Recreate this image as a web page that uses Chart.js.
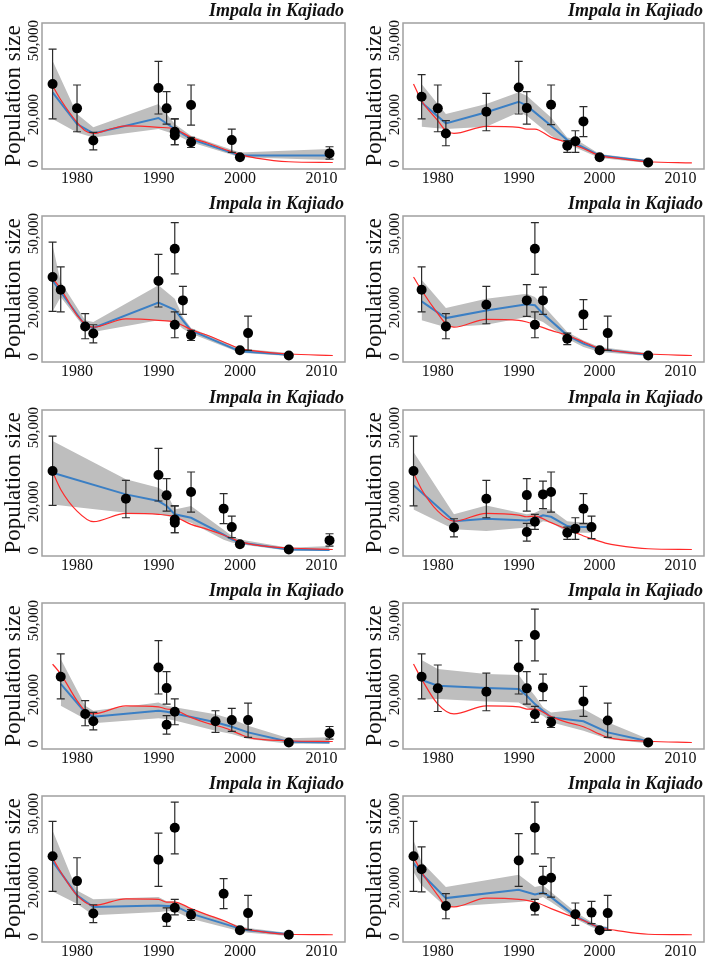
<!DOCTYPE html>
<html>
<head>
<meta charset="utf-8">
<script src="https://cdn.jsdelivr.net/npm/chart.js@4.4.0/dist/chart.umd.min.js"></script>
<style>
  html, body { margin: 0; padding: 0; background: #fff; overflow: hidden; }
  #wrap { position: relative; width: 709px; height: 957px; }
  #wrap canvas { position: absolute; }
</style>
</head>
<body>
<div id="wrap"></div>
<script>
// ---- data: one inner list per panel (row by row, left then right) ----
const panelTitle = 'Impala in Kajiado';
const yLabel = 'Population size';
const xTicks = [1980, 1990, 2000, 2010];
const yTicks = [0, 20000, 50000];

const obsYear = [
  [1977, 1980, 1982, 1990, 1991, 1992, 1992, 1994, 1994, 1999, 2000, 2011],
  [1978, 1980, 1981, 1986, 1990, 1991, 1994, 1996, 1997, 1998, 2000, 2006],
  [1977, 1978, 1981, 1982, 1990, 1992, 1992, 1993, 1994, 2000, 2001, 2006],
  [1978, 1981, 1986, 1991, 1992, 1992, 1993, 1996, 1998, 2000, 2001, 2006],
  [1977, 1986, 1990, 1991, 1992, 1992, 1994, 1998, 1999, 2000, 2006, 2011],
  [1977, 1982, 1986, 1991, 1991, 1992, 1993, 1994, 1996, 1997, 1998, 1999],
  [1978, 1981, 1982, 1990, 1991, 1991, 1992, 1997, 1999, 2001, 2006, 2011],
  [1978, 1980, 1986, 1990, 1991, 1992, 1992, 1993, 1994, 1998, 2001, 2006],
  [1977, 1980, 1982, 1990, 1991, 1992, 1992, 1994, 1998, 2000, 2001, 2006],
  [1977, 1978, 1981, 1990, 1992, 1992, 1993, 1994, 1997, 1999, 2000, 2001]
];
const obsVal = [
  [32400, 22500, 9400, 30800, 22500, 13000, 11500, 23900, 8700, 9600, 2600, 4200],
  [27200, 22500, 12300, 21100, 31000, 22600, 24000, 7300, 9100, 17200, 2600, 500],
  [32400, 27200, 12300, 9400, 30800, 43900, 13000, 22900, 8700, 2600, 9600, 500],
  [27200, 12300, 21100, 22900, 43900, 13000, 22900, 7300, 17200, 2600, 9600, 500],
  [32400, 21100, 30800, 22500, 12700, 11400, 23900, 17100, 9600, 2600, 500, 4200],
  [32400, 9400, 21100, 22600, 7600, 11800, 22900, 23900, 7300, 8900, 17100, 9600],
  [27200, 12100, 9100, 31000, 22600, 7700, 13000, 9100, 9600, 9600, 500, 4300],
  [27200, 22500, 21100, 31000, 22500, 44200, 12000, 22900, 8700, 17200, 9400, 500],
  [32700, 22600, 9400, 31300, 7700, 44300, 11800, 8900, 17500, 2600, 9600, 800],
  [32700, 27400, 12500, 31000, 44300, 12100, 22900, 24000, 9100, 9800, 2600, 9600]
];
const obsLo = [
  [18200, 13000, 5600, 20200, 16100, 7700, 7700, 15700, 6600, 4600, 2600, 1900],
  [18200, 13000, 7300, 13400, 20200, 16100, 15900, 4600, 4600, 11000, 2600, 500],
  [18400, 18200, 7300, 5600, 20200, 33700, 7700, 17200, 6600, 2600, 2600, 500],
  [18200, 7300, 13400, 16400, 33500, 7700, 17200, 4900, 11100, 2600, 2600, 500],
  [18400, 13400, 20200, 16100, 7300, 7300, 15700, 11000, 5300, 2600, 500, 1900],
  [18200, 5600, 13400, 16100, 3900, 8700, 17100, 15700, 4600, 4600, 11000, 4900],
  [18200, 7300, 5600, 20200, 16100, 3900, 7700, 4600, 5000, 2600, 500, 1900],
  [18200, 13100, 13400, 20200, 16100, 33700, 8700, 17500, 6600, 11100, 2600, 500],
  [18400, 13100, 5700, 20500, 4200, 33700, 8900, 6600, 11400, 2600, 2900, 800],
  [18400, 18200, 7300, 20500, 33700, 8900, 17500, 16100, 4600, 5300, 2600, 2600]
];
const obsHi = [
  [46600, 32000, 12700, 41600, 29300, 18200, 18200, 32000, 10700, 14100, 2600, 6900],
  [36200, 32000, 17500, 28600, 41600, 29300, 32000, 9400, 13400, 23200, 2600, 500],
  [46600, 36500, 17500, 13000, 41600, 54500, 18200, 28600, 10700, 2600, 16500, 500],
  [36500, 17500, 28600, 29300, 54500, 18200, 28300, 9600, 23200, 2600, 16500, 500],
  [46600, 28600, 41600, 29300, 18200, 18200, 32000, 23200, 14100, 2600, 500, 6900],
  [46600, 13000, 28600, 29300, 11100, 14800, 28300, 32000, 9600, 13400, 23200, 14100],
  [36500, 17500, 12700, 41900, 29300, 11400, 18200, 13400, 14400, 16500, 500, 7000],
  [36500, 32000, 28700, 41900, 29300, 54700, 15200, 28300, 10700, 23300, 16500, 500],
  [46900, 32100, 13000, 42100, 11700, 54700, 15200, 11000, 23600, 2600, 16800, 800],
  [46900, 36500, 17500, 41900, 54700, 15200, 28600, 32100, 13700, 14400, 2600, 16800]
];

const fitYear = [
  [1977, 1980, 1982, 1990, 1992, 1994, 2000, 2011],
  [1978, 1981, 1986, 1990, 1991, 1994, 1996, 1997, 2000, 2006],
  [1977, 1978, 1981, 1982, 1990, 1992, 1993, 1994, 2000, 2006],
  [1978, 1981, 1986, 1991, 1992, 1993, 1996, 1998, 2000, 2006],
  [1977, 1986, 1990, 1991, 1992, 1994, 1998, 1999, 2000, 2006, 2011],
  [1977, 1982, 1986, 1991, 1992, 1993, 1994, 1996, 1997, 1998, 1999],
  [1978, 1981, 1982, 1990, 1991, 1992, 1997, 1999, 2001, 2006, 2011],
  [1978, 1980, 1986, 1990, 1991, 1992, 1993, 1994, 1998, 2001, 2006],
  [1977, 1980, 1982, 1990, 1991, 1992, 1994, 2000, 2001, 2006],
  [1977, 1978, 1981, 1990, 1992, 1993, 1994, 1997, 1999, 2000, 2001]
];
const fitVal = [
  [29000, 16100, 12300, 18600, 14100, 10000, 3300, 3300],
  [24900, 16400, 20900, 25200, 23600, 15400, 9600, 8300, 3300, 1000],
  [31000, 26300, 12700, 11700, 22000, 19100, 14800, 10700, 2200, 800],
  [22500, 15700, 18800, 21300, 20900, 17500, 8700, 5300, 3000, 800],
  [31700, 22900, 20200, 18200, 14800, 13400, 6500, 4600, 3300, 500, 300],
  [26600, 12000, 13000, 12300, 13000, 14400, 13800, 10000, 9600, 9600, 9600],
  [24300, 12700, 11000, 13400, 13000, 12300, 8700, 6900, 4600, 800, 500],
  [25900, 23600, 22600, 22200, 19500, 16100, 13400, 10700, 9100, 4600, 1000],
  [30600, 16800, 12100, 12700, 12500, 12500, 9400, 3300, 2600, 1000],
  [29900, 25600, 15700, 19100, 17200, 17900, 16100, 8400, 5000, 3700, 3300]
];
const fitLo = [
  [18200, 12700, 10700, 14100, 12000, 8700, 2600, 1500],
  [15000, 14100, 15000, 20900, 19500, 11400, 7700, 6600, 2300, 300],
  [18400, 24300, 11400, 10000, 14800, 14100, 11400, 9400, 1600, 300],
  [14800, 12000, 13000, 16100, 15400, 14100, 7300, 3900, 1900, 300],
  [18800, 15400, 14800, 14100, 13400, 11400, 4500, 3300, 2600, 0, 0],
  [16800, 8700, 8000, 9400, 10000, 12000, 11400, 7600, 7300, 7300, 7300],
  [15400, 10000, 8300, 10300, 10000, 9400, 5300, 3900, 1900, 0, 0],
  [18000, 18200, 17200, 16800, 14800, 12700, 11400, 8700, 5300, 1900, 100],
  [18400, 13400, 8700, 10000, 10300, 10300, 7300, 2200, 1600, 300],
  [26300, 20900, 12100, 14100, 14800, 16100, 14100, 7300, 3900, 2600, 2600]
];
const fitHi = [
  [41900, 20200, 14800, 24300, 16100, 11400, 4600, 6000],
  [32400, 20200, 24300, 29000, 27600, 18800, 10700, 10000, 3900, 1500],
  [45300, 30400, 14800, 14100, 29000, 23600, 16100, 11700, 3300, 1500],
  [31300, 19800, 23600, 25600, 24300, 20900, 10000, 6600, 3900, 1500],
  [44600, 29000, 25600, 23600, 16800, 18200, 8500, 6000, 4600, 1200, 1900],
  [40100, 14800, 18400, 14800, 15400, 17100, 16800, 12000, 11700, 11700, 11400],
  [34400, 15400, 13400, 16800, 15400, 14800, 12000, 10000, 7300, 2200, 2600],
  [34000, 30400, 28300, 27900, 23600, 19500, 14800, 12700, 14100, 8700, 1900],
  [43200, 18800, 15200, 16100, 14400, 14400, 11400, 4300, 3500, 1500],
  [39200, 30400, 20200, 25200, 20200, 20900, 18200, 10000, 6000, 4600, 3900]
];

const redYear = [
  [1977, 1978, 1980, 1981, 1982, 1984, 1986, 1990, 1992, 1994, 1996, 1998, 2000, 2002, 2006, 2011.4],
  [1977, 1978, 1980, 1981, 1982, 1986, 1990, 1991, 1992, 1994, 1996, 1998, 2000, 2002, 2006, 2011.4],
  [1977, 1978, 1980, 1981, 1982, 1986, 1990, 1992, 1993, 1994, 1996, 1998, 2000, 2002, 2006, 2011.4],
  [1977, 1978, 1980, 1981, 1982, 1986, 1990, 1991, 1992, 1994, 1996, 1998, 2000, 2002, 2006, 2011.4],
  [1977, 1978, 1980, 1982, 1986, 1990, 1992, 1994, 1996, 1998, 2000, 2002, 2006, 2011.4],
  [1977, 1978, 1980, 1982, 1986, 1990, 1991, 1992, 1994, 1996, 1998, 1999, 2001, 2002, 2006, 2011.4],
  [1977, 1978, 1980, 1981, 1982, 1986, 1990, 1991, 1992, 1994, 1996, 1998, 2000, 2001, 2006, 2011.4],
  [1977, 1978, 1980, 1982, 1986, 1990, 1991, 1992, 1994, 1996, 1998, 2000, 2001, 2006, 2011.4],
  [1977, 1978, 1980, 1982, 1986, 1990, 1991, 1992, 1994, 1996, 1998, 2000, 2001, 2006, 2011.4],
  [1977, 1978, 1980, 1981, 1982, 1986, 1990, 1992, 1994, 1996, 1998, 2000, 2002, 2006, 2011.4]
];
const redVal = [
  [31700, 26000, 16800, 13400, 12300, 14000, 15400, 14800, 14100, 10700, 8400, 6000, 3700, 2300, 800, 500],
  [32400, 25600, 17500, 13400, 12300, 15200, 14800, 14100, 14100, 10700, 8700, 6200, 3300, 2300, 800, 300],
  [32000, 27600, 16800, 13400, 12000, 15400, 14800, 14100, 12700, 11000, 8700, 6000, 3300, 2300, 1100, 500],
  [32400, 27000, 17500, 13400, 12000, 15200, 14800, 14100, 13000, 10700, 8700, 6000, 3300, 2300, 1100, 500],
  [32000, 24900, 16100, 11800, 15200, 14800, 13800, 10700, 8700, 6400, 3700, 2300, 1100, 500],
  [31700, 24900, 16100, 12000, 15200, 14500, 13800, 14100, 11400, 8700, 6000, 4900, 2900, 2300, 800, 500],
  [32400, 28300, 17500, 13400, 12100, 15400, 15000, 14100, 13700, 10700, 8300, 6600, 3900, 2600, 1200, 900],
  [32400, 26300, 16100, 12100, 15400, 15000, 14100, 14100, 11000, 8700, 6900, 3900, 2600, 1000, 500],
  [32000, 26300, 16800, 12700, 15400, 15200, 14100, 14100, 11400, 8900, 6600, 3700, 2900, 1000, 800],
  [32400, 26300, 16800, 12700, 12100, 15700, 15200, 14100, 11400, 8900, 6600, 3700, 2600, 1000, 800]
];

const serif = '"Liberation Serif", "Times New Roman", serif';

const zip = (xs, ys) => xs.map((x, i) => ({ x: x, y: ys[i] }));

const decor = {
  id: 'decor',
  beforeDatasetDraw(chart, args) {
    if (args.index !== 0) return;
    const p = chart.$panel;
    const sx = chart.scales.x, sy = chart.scales.y;
    const ctx = chart.ctx;
    ctx.save();
    ctx.strokeStyle = '#2b2b2b';
    ctx.lineWidth = 1.2;
    obsYear[p].forEach((yr, i) => {
      const lo = obsLo[p][i], hi = obsHi[p][i];
      if (hi - lo < 300) return;
      const x = sx.getPixelForValue(yr);
      const y1 = sy.getPixelForValue(lo), y2 = sy.getPixelForValue(hi);
      ctx.beginPath();
      ctx.moveTo(x, y1); ctx.lineTo(x, y2);
      ctx.moveTo(x - 4, y1); ctx.lineTo(x + 4, y1);
      ctx.moveTo(x - 4, y2); ctx.lineTo(x + 4, y2);
      ctx.stroke();
    });
    ctx.restore();
  },
  afterDraw(chart) {
    const ctx = chart.ctx;
    const a = chart.chartArea;
    const sx = chart.scales.x, sy = chart.scales.y;
    ctx.save();
    ctx.strokeStyle = '#a0a0a0';
    ctx.lineWidth = 1.5;
    ctx.strokeRect(a.left, a.top, a.right - a.left, a.bottom - a.top);

    ctx.fillStyle = '#111';
    ctx.font = 'bold italic 18px ' + serif;
    ctx.textAlign = 'right';
    ctx.textBaseline = 'alphabetic';
    ctx.fillText(panelTitle, a.right - 1, a.top - 7);

    ctx.font = '16px ' + serif;
    ctx.textAlign = 'center';
    ctx.textBaseline = 'middle';
    xTicks.forEach(v => ctx.fillText(String(v), sx.getPixelForValue(v), a.bottom + 10));

    ctx.font = '15px ' + serif;
    yTicks.forEach(v => {
      ctx.save();
      ctx.translate(a.left - 8, sy.getPixelForValue(v));
      ctx.rotate(-Math.PI / 2);
      ctx.fillText(v.toLocaleString('en-US'), 0, 0);
      ctx.restore();
    });

    ctx.font = '23px ' + serif;
    ctx.translate(a.left - 28, (a.top + a.bottom) / 2);
    ctx.rotate(-Math.PI / 2);
    ctx.fillText(yLabel, 0, 0);
    ctx.restore();
  }
};

const wrap = document.getElementById('wrap');

for (let p = 0; p < 10; p++) {
  const row = Math.floor(p / 2), col = p % 2;
  const cv = document.createElement('canvas');
  const w = col === 0 ? 352 : 348;
  cv.width = w; cv.height = 193;
  cv.style.left = (col === 0 ? 0 : 361) + 'px';
  cv.style.top = Math.round(row * 193.25) + 'px';
  wrap.appendChild(cv);

  const chart = new Chart(cv, {
    type: 'line',
    data: {
      datasets: [
        { label: 'obs', data: zip(obsYear[p], obsVal[p]), showLine: false,
          pointRadius: 5, pointBackgroundColor: '#000', pointBorderWidth: 0 },
        { label: 'red', data: zip(redYear[p], redVal[p]), borderColor: '#ff2a2a',
          borderWidth: 1.2, pointRadius: 0, cubicInterpolationMode: 'monotone' },
        { label: 'fit', data: zip(fitYear[p], fitVal[p]), borderColor: '#3b7fc4',
          borderWidth: 2, pointRadius: 0 },
        { label: 'hi', data: zip(fitYear[p], fitHi[p]), borderWidth: 0, borderColor: 'rgba(0,0,0,0)',
          pointRadius: 0, fill: '+1', backgroundColor: '#bebebe' },
        { label: 'lo', data: zip(fitYear[p], fitLo[p]), borderWidth: 0, borderColor: 'rgba(0,0,0,0)',
          pointRadius: 0, fill: false }
      ]
    },
    options: {
      responsive: false,
      animation: false,
      events: [],
      layout: { padding: { left: 42, right: w - 345, top: 23, bottom: 24 } },
      plugins: { legend: { display: false }, tooltip: { enabled: false } },
      scales: {
        x: { type: 'linear', min: 1975.7, max: 2012.9, display: false },
        y: { type: 'linear', min: -2150, max: 57200, display: false }
      }
    },
    plugins: [{ id: 'tag', beforeInit(c) { c.$panel = p; } }, decor]
  });
}
</script>
</body>
</html>
